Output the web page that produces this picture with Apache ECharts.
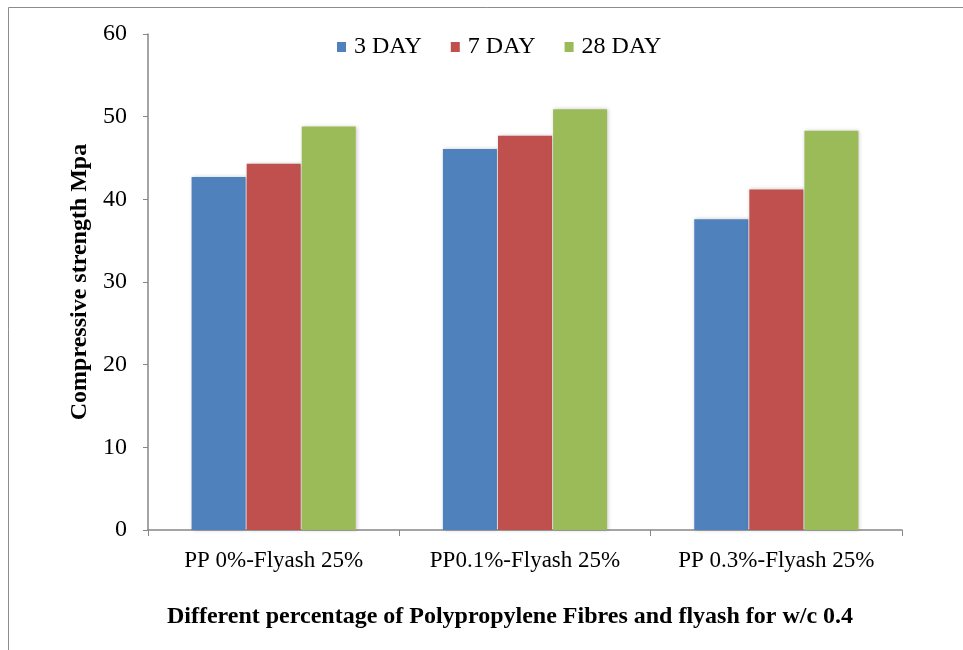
<!DOCTYPE html>
<html>
<head>
<meta charset="utf-8">
<script src="https://cdn.jsdelivr.net/npm/echarts@6/dist/echarts.min.js"></script>
<style>html,body{margin:0;padding:0;background:#fff}#c{width:963px;height:650px}</style>
</head>
<body>
<div id="c"></div>
<script>
const categories = ['PP 0%-Flyash 25%', 'PP0.1%-Flyash 25%', 'PP 0.3%-Flyash 25%'];
const seriesNames = ['3 DAY', '7 DAY', '28 DAY'];
const day3 = [42.7, 46.1, 37.6];
const day7 = [44.3, 47.7, 41.2];
const day28 = [48.8, 50.9, 48.3];
const yTicks = { min: 0, max: 60, interval: 10 };
const colors = ['#4F81BD', '#C0504D', '#9BBB59'];
const font = 'Liberation Serif';

const chart = echarts.init(document.getElementById('c'));
const mk = (name, data, color) => ({
  name, type: 'bar', data, barWidth: 54, barGap: '2%',
  itemStyle: { color, shadowColor: 'rgba(0,0,0,0.22)', shadowBlur: 4, shadowOffsetX: 1, shadowOffsetY: 0 }
});
chart.setOption({
  animation: false,
  backgroundColor: '#fff',
  graphic: [{
    type: 'rect', shape: { x: 8.5, y: 7.5, width: 1000, height: 700 },
    style: { fill: 'none', stroke: '#8c8c8c', lineWidth: 1 }, silent: true, z: -1
  }],
  legend: {
    top: 30, left: 332, itemWidth: 9, itemHeight: 10, itemGap: 29,
    icon: 'rect',
    textStyle: { fontFamily: font, fontSize: 24, color: '#000', padding: [0, 0, 0, 3] },
    data: seriesNames
  },
  grid: { left: 148, right: 61, top: 34, bottom: 120, containLabel: false },
  xAxis: {
    type: 'category', data: categories,
    axisLine: { lineStyle: { color: '#868686', width: 1.5 } },
    axisTick: { show: true, length: 6, alignWithLabel: false, lineStyle: { color: '#868686' } },
    axisLabel: { fontFamily: font, fontSize: 23, color: '#000', margin: 19, interval: 0 },
    name: 'Different percentage of Polypropylene Fibres and flyash for w/c 0.4',
    nameLocation: 'middle', nameGap: 75,
    nameTextStyle: { fontFamily: font, fontSize: 24, fontWeight: 'bold', color: '#000', padding: [0, 30, 0, 0] }
  },
  yAxis: {
    type: 'value', min: yTicks.min, max: yTicks.max, interval: yTicks.interval,
    axisLine: { show: true, lineStyle: { color: '#868686', width: 1.5 } },
    axisTick: { show: true, length: 5, lineStyle: { color: '#868686' } },
    splitLine: { show: false },
    axisLabel: { fontFamily: font, fontSize: 24, color: '#000', margin: 21 },
    name: 'Compressive strength Mpa', nameLocation: 'middle', nameGap: 46, nameRotate: 90,
    nameTextStyle: { fontFamily: font, fontSize: 24, fontWeight: 'bold', color: '#000' }
  },
  series: [mk(seriesNames[0], day3, colors[0]), mk(seriesNames[1], day7, colors[1]), mk(seriesNames[2], day28, colors[2])]
});
</script>
</body>
</html>
